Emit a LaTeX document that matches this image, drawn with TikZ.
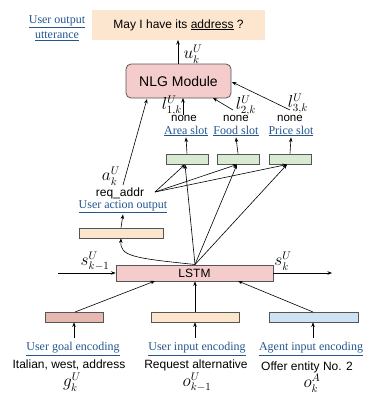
\documentclass[tikz,border=0pt]{standalone}
\usepackage{fontspec}
\setmainfont{Liberation Serif}
\setsansfont{Liberation Sans}
\usetikzlibrary{arrows.meta}
\definecolor{linkblue}{HTML}{23558F}
\definecolor{peach}{HTML}{FCE5CD}
\definecolor{toppeach}{HTML}{FDE6CF}
\definecolor{pinkfill}{HTML}{F4CCCC}
\definecolor{greenfill}{HTML}{D9EAD3}
\definecolor{redfill}{HTML}{E6B8AF}
\definecolor{bluefill}{HTML}{CFE2F3}
\definecolor{edgegray}{HTML}{555555}
\tikzset{
  box/.style={draw=edgegray, line width=0.8pt, inner sep=0pt, minimum height=10pt},
  link/.style={text=linkblue, font=\fontsize{12}{14}\selectfont, inner sep=1pt},
  sanslbl/.style={font=\sffamily\fontsize{12}{14}\selectfont, inner sep=1pt},
  mathlbl/.style={font=\fontsize{16}{18}\selectfont, inner sep=0pt},
  arr/.style={-{Stealth[length=4.5pt,width=3.5pt]}, line width=0.6pt},
}
\begin{document}
\begin{tikzpicture}[x=1pt,y=-1pt]
\useasboundingbox (0,0) rectangle (374,397);

% top output
\node[fill=toppeach, minimum width=173pt, minimum height=30pt, inner sep=0pt,
  font=\sffamily\fontsize{12}{14}\selectfont] (utt) at (178.5,25) {May I have its \underline{address} ?};
\node[link, align=center, font=\fontsize{12}{15}\selectfont] (uttlbl) at (57,28) {\underline{User output}\\\underline{utterance}};

% NLG
\node[box, fill=pinkfill, rounded corners=5pt, minimum width=105pt, minimum height=34pt,
  font=\sffamily\fontsize{14}{16}\selectfont] (nlg) at (178.5,81) {NLG Module};
\coordinate (nlgtop) at (178,64);
\coordinate (utttop) at (178,40);
\draw[arr] (nlgtop) -- (utttop);
\node[mathlbl] (uk) at (193,54) {$u_k^U$};

% slots
\node[box, fill=greenfill, minimum width=42pt] (s1) at (187,159) {};
\node[box, fill=greenfill, minimum width=42pt] (s2) at (238,159) {};
\node[box, fill=greenfill, minimum width=42pt] (s3) at (290,159) {};
\node[link] (a1) at (186,131) {\underline{Area slot}};
\node[link] (a2) at (236,131) {\underline{Food slot}};
\node[link] (a3) at (291,131) {\underline{Price slot}};
\node[sanslbl, font=\sffamily\fontsize{11.5}{13}\selectfont] (n1) at (184,118) {none};
\node[sanslbl, font=\sffamily\fontsize{11.5}{13}\selectfont] (n2) at (236,118) {none};
\node[sanslbl, font=\sffamily\fontsize{11.5}{13}\selectfont] (n3) at (290,118) {none};
\node[mathlbl] (l1) at (172,106) {$l_{1,k}^U$};
\node[mathlbl] (l2) at (246,106) {$l_{2,k}^U$};
\node[mathlbl] (l3) at (298,104) {$l_{3,k}^U$};
\draw[arr] (s1.north) -- (a1.south);
\draw[arr] (s2.north) -- (a2.south);
\draw[arr] (s3.north) -- (a3.south);
\coordinate (l1s) at (183,115);
\coordinate (l1e) at (183,98);
\coordinate (l2s) at (233,110);
\coordinate (l2e) at (213,98);
\coordinate (l3s) at (290,110);
\coordinate (l3e) at (232,82);
\draw[arr] (l1s) -- (l1e);
\draw[arr] (l2s) -- (l2e);
\draw[arr] (l3s) -- (l3e);

% action output
\node[sanslbl] (req) at (120,193) {req\_addr};
\node[mathlbl] (ak) at (111,176) {$a_k^U$};
\coordinate (reqs) at (123,185);
\coordinate (reqe) at (147,99);
\draw[arr] (reqs) -- (reqe);
\coordinate (reqr) at (155,192);
\coordinate (s1b) at (185,164.5);
\coordinate (s2b) at (237,164.5);
\coordinate (s3b) at (287,164.5);
\draw[arr] (reqr) -- (s1b);
\draw[arr] (reqr) -- (s2b);
\draw[arr] (reqr) -- (s3b);
\node[link] (uao) at (123,207) {\underline{User action output}};
\node[box, fill=peach, minimum width=84pt] (act) at (121,233) {};
\draw[arr] (act.north) -- (uao.south);

% LSTM
\node[box, fill=pinkfill, minimum width=157pt, minimum height=16pt,
  font=\sffamily\fontsize{12}{14}\selectfont] (lstm) at (194.5,273) {LSTM};
\coordinate (lt) at (195,264.5);
\draw[arr] (lt) .. controls (132,258) and (120,256) .. (act.south);
\draw[arr] (lt) -- (s1b);
\draw[arr] (lt) -- (s2b);
\draw[arr] (lt) -- (s3b);
\coordinate (sin) at (58,273);
\coordinate (sout) at (332,273);
\draw[arr] (sin) -- (lstm.west);
\draw[arr] (lstm.east) -- (sout);
\node[mathlbl] (skm) at (95,261) {$s_{k-1}^U$};
\node[mathlbl] (sk) at (283,261) {$s_k^U$};

% encodings
\node[box, fill=redfill, minimum width=58pt] (e1) at (74,317) {};
\node[box, fill=peach, minimum width=88pt] (e2) at (195,317) {};
\node[box, fill=bluefill, minimum width=89pt] (e3) at (313.5,317) {};
\coordinate (e1t) at (75,312);
\coordinate (e3t) at (313,312);
\coordinate (l1in) at (155,281);
\coordinate (l3in) at (238,281);
\draw[arr] (e1t) -- (l1in);
\draw[arr] (e2.north) -- (lstm.south -| e2.north);
\draw[arr] (e3t) -- (l3in);
\coordinate (b1) at (74,338);
\coordinate (b2) at (195,338);
\coordinate (b3) at (313,338);
\draw[arr] (b1) -- (e1.south -| b1);
\draw[arr] (b2) -- (e2.south);
\draw[arr] (b3) -- (e3.south -| b3);

\node[link] (g1) at (73,349) {\underline{User goal encoding}};
\node[link] (g2) at (197,349) {\underline{User input encoding}};
\node[link] (g3) at (311,349) {\underline{Agent input encoding}};
\node[sanslbl] (t1) at (69,365) {Italian, west, address};
\node[sanslbl] (t2) at (196,365) {Request alternative};
\node[sanslbl] (t3) at (307,367) {Offer entity No. 2};
\node[mathlbl] (m1) at (72,382) {$g_k^U$};
\node[mathlbl] (m2) at (197,382) {$o_{k-1}^U$};
\node[mathlbl] (m3) at (312,383) {$o_k^A$};
\end{tikzpicture}
\end{document}
